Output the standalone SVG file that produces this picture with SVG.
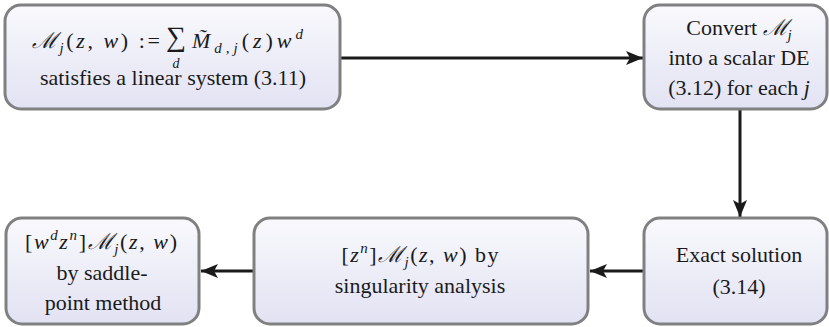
<svg xmlns="http://www.w3.org/2000/svg" width="829" height="327" viewBox="0 0 829 327">
<defs>
<linearGradient id="g" x1="0" y1="0" x2="0" y2="1">
<stop offset="0" stop-color="#f9f9fd"/>
<stop offset="1" stop-color="#e2e2f3"/>
</linearGradient>
<marker id="ah" markerUnits="userSpaceOnUse" markerWidth="18" markerHeight="14" viewBox="0 0 18 14" refX="17" refY="7" orient="auto">
<path d="M0,0 L17,7 L0,14 L4,7 Z" fill="#1a1a1a"/>
</marker>
</defs>
<rect width="829" height="327" fill="#ffffff"/>
<g id="connectors" stroke="#1a1a1a" stroke-width="3" fill="none" marker-end="url(#ah)">
<path d="M341,58 H643"/>
<path d="M740,110 V217"/>
<path d="M643,271 H590"/>
<path d="M253,271 H201"/>
</g>
<g id="n1" font-family="Liberation Serif">
<rect x="5" y="5" width="335" height="104" rx="16" fill="url(#g)" stroke="#808080" stroke-width="3"/>
<text font-family="Liberation Serif" font-size="22" fill="#1a1a1a" x="32" y="48" textLength="128" lengthAdjust="spacing"><tspan font-style="italic">ℳ</tspan><tspan font-style="italic" font-size="15" dy="5">j</tspan><tspan dy="-5">(</tspan><tspan font-style="italic">z</tspan>, <tspan font-style="italic">w</tspan>) :=</text>
<text font-family="Liberation Serif" font-size="28" fill="#1a1a1a" text-anchor="middle" x="176" y="46">∑<tspan x="176" dy="22" font-size="14" font-style="italic">d</tspan></text>
<text font-family="Liberation Serif" font-size="22" fill="#1a1a1a" x="192" y="48" textLength="111" lengthAdjust="spacing"><tspan font-style="italic">M̃</tspan><tspan font-style="italic" font-size="15" dy="5">d,j</tspan><tspan dy="-5">(</tspan><tspan font-style="italic">z</tspan>)<tspan font-style="italic">w</tspan><tspan font-style="italic" font-size="15" dy="-9">d</tspan></text>
<text font-family="Liberation Serif" font-size="22" fill="#1a1a1a" text-anchor="middle" x="173" y="85">satisfies a linear system (3.11)</text>
</g>
<g id="n2" font-family="Liberation Serif">
<rect x="644" y="5" width="183" height="104" rx="16" fill="url(#g)" stroke="#808080" stroke-width="3"/>
<text font-family="Liberation Serif" font-size="22" fill="#1a1a1a" text-anchor="middle" x="739" y="35">Convert <tspan font-style="italic">ℳ</tspan><tspan font-style="italic" font-size="15" dy="5">j</tspan></text>
<text font-family="Liberation Serif" font-size="22" fill="#1a1a1a" text-anchor="middle" x="739" y="65">into a scalar DE</text>
<text font-family="Liberation Serif" font-size="22" fill="#1a1a1a" text-anchor="middle" x="739" y="95">(3.12) for each <tspan font-style="italic">j</tspan></text>
</g>
<g id="n3" font-family="Liberation Serif">
<rect x="644" y="218" width="183" height="106" rx="16" fill="url(#g)" stroke="#808080" stroke-width="3"/>
<text font-family="Liberation Serif" font-size="22" fill="#1a1a1a" text-anchor="middle" x="739" y="262">Exact solution</text>
<text font-family="Liberation Serif" font-size="22" fill="#1a1a1a" text-anchor="middle" x="739" y="294">(3.14)</text>
</g>
<g id="n4" font-family="Liberation Serif">
<rect x="254" y="218" width="334" height="106" rx="16" fill="url(#g)" stroke="#808080" stroke-width="3"/>
<text font-family="Liberation Serif" font-size="22" fill="#1a1a1a" text-anchor="middle" x="420" y="262" textLength="157" lengthAdjust="spacing">[<tspan font-style="italic">z</tspan><tspan font-style="italic" font-size="15" dy="-9">n</tspan><tspan dy="9">]</tspan><tspan font-style="italic">ℳ</tspan><tspan font-style="italic" font-size="15" dy="5">j</tspan><tspan dy="-5">(</tspan><tspan font-style="italic">z</tspan>, <tspan font-style="italic">w</tspan>) by</text>
<text font-family="Liberation Serif" font-size="22" fill="#1a1a1a" text-anchor="middle" x="420" y="293">singularity analysis</text>
</g>
<g id="n5" font-family="Liberation Serif">
<rect x="6" y="218" width="193" height="106" rx="16" fill="url(#g)" stroke="#808080" stroke-width="3"/>
<text font-family="Liberation Serif" font-size="22" fill="#1a1a1a" text-anchor="middle" x="101" y="249" textLength="152" lengthAdjust="spacing">[<tspan font-style="italic">w</tspan><tspan font-style="italic" font-size="15" dy="-9">d</tspan><tspan font-style="italic" dy="9">z</tspan><tspan font-style="italic" font-size="15" dy="-9">n</tspan><tspan dy="9">]</tspan><tspan font-style="italic">ℳ</tspan><tspan font-style="italic" font-size="15" dy="5">j</tspan><tspan dy="-5">(</tspan><tspan font-style="italic">z</tspan>, <tspan font-style="italic">w</tspan>)</text>
<text font-family="Liberation Serif" font-size="22" fill="#1a1a1a" text-anchor="middle" x="102" y="280">by saddle-</text>
<text font-family="Liberation Serif" font-size="22" fill="#1a1a1a" text-anchor="middle" x="103" y="310">point method</text>
</g>
</svg>
